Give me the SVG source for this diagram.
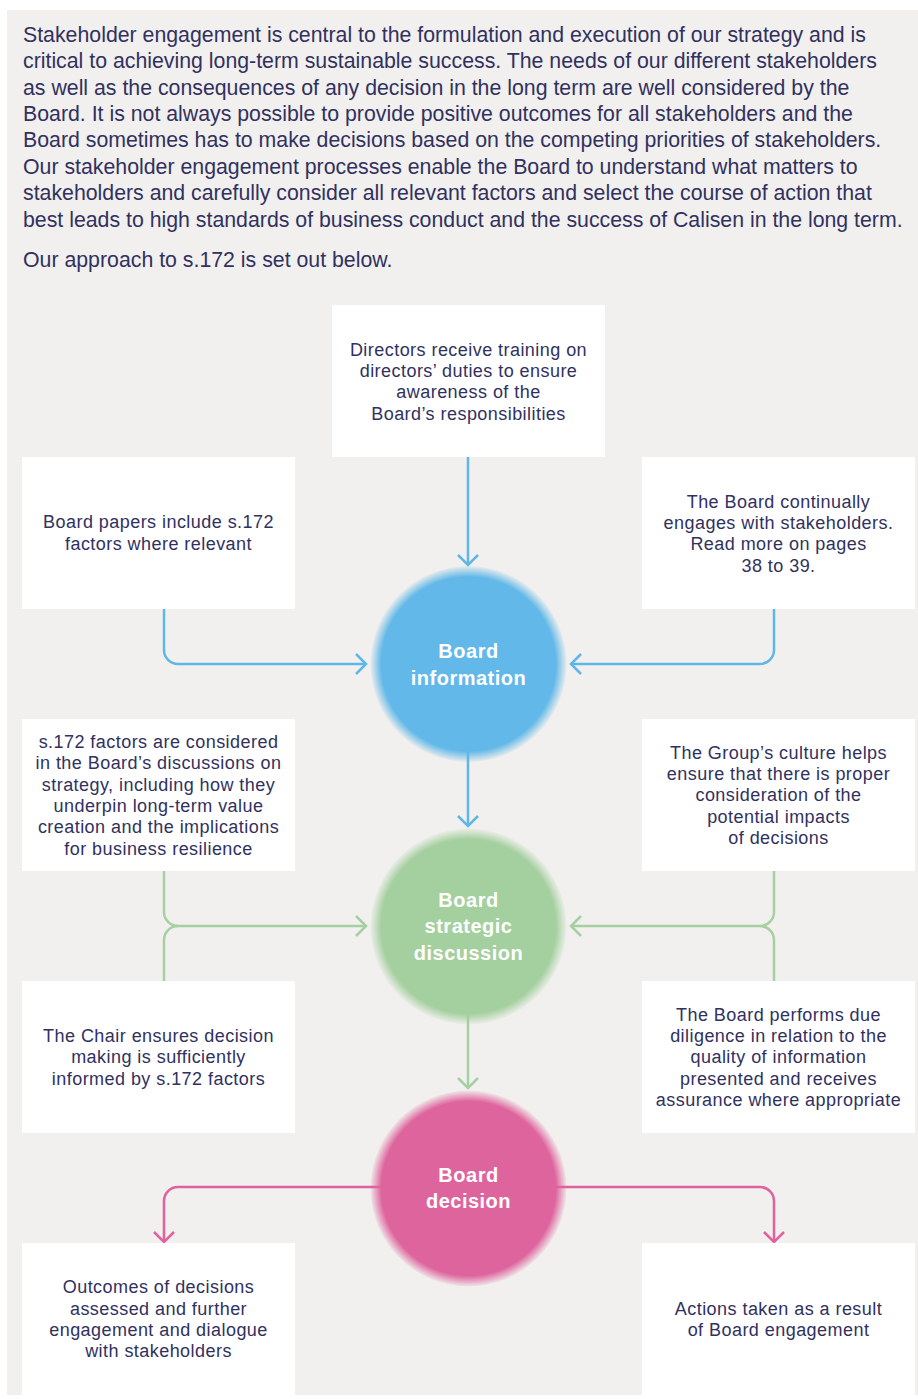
<svg xmlns="http://www.w3.org/2000/svg" width="918" height="1399" viewBox="0 0 918 1399">
  <style>
    .para { font-family: "Liberation Sans", Arial, sans-serif; font-size: 21.3px; fill: #31315f; }
    .box { fill: #ffffff; }
    .label { font-family: "Liberation Sans", Arial, sans-serif; font-size: 18px; letter-spacing: 0.45px; fill: #31315f; text-anchor: middle; }
    .hub { font-family: "Liberation Sans", Arial, sans-serif; font-size: 20px; font-weight: bold; letter-spacing: 0.5px; fill: #ffffff; text-anchor: middle; }
    .line { fill: none; stroke-width: 2.5; stroke-linecap: butt; stroke-linejoin: miter; }
    .blue { stroke: #5fb7e7; }
    .green { stroke: #a6d0a1; }
    .pink { stroke: #e0619d; }
  </style>
  <defs>
    <marker id="arrow-blue" viewBox="-12 -12 14 24" refX="0" refY="0" markerWidth="14" markerHeight="24" markerUnits="userSpaceOnUse" orient="auto">
      <path d="M-10,-10 L0,0 L-10,10" fill="none" stroke="#5fb7e7" stroke-width="2.5"/>
    </marker>
    <marker id="arrow-green" viewBox="-12 -12 14 24" refX="0" refY="0" markerWidth="14" markerHeight="24" markerUnits="userSpaceOnUse" orient="auto">
      <path d="M-10,-10 L0,0 L-10,10" fill="none" stroke="#a6d0a1" stroke-width="2.5"/>
    </marker>
    <marker id="arrow-pink" viewBox="-12 -12 14 24" refX="0" refY="0" markerWidth="14" markerHeight="24" markerUnits="userSpaceOnUse" orient="auto">
      <path d="M-10,-10 L0,0 L-10,10" fill="none" stroke="#e0619d" stroke-width="2.5"/>
    </marker>
    <radialGradient id="glow-blue" cx="0.5" cy="0.5" r="0.5">
      <stop offset="0" stop-color="#62b8e8"/>
      <stop offset="0.89" stop-color="#62b8e8"/>
      <stop offset="1" stop-color="#62b8e8" stop-opacity="0.08"/>
    </radialGradient>
    <radialGradient id="glow-green" cx="0.5" cy="0.5" r="0.5">
      <stop offset="0" stop-color="#a4cf9e"/>
      <stop offset="0.89" stop-color="#a4cf9e"/>
      <stop offset="1" stop-color="#a4cf9e" stop-opacity="0.08"/>
    </radialGradient>
    <radialGradient id="glow-pink" cx="0.5" cy="0.5" r="0.5">
      <stop offset="0" stop-color="#de649d"/>
      <stop offset="0.89" stop-color="#de649d"/>
      <stop offset="1" stop-color="#de649d" stop-opacity="0.08"/>
    </radialGradient>
  </defs>

  <!-- page background and panel -->
  <rect x="0" y="0" width="918" height="1399" fill="#ffffff"/>
  <rect x="7" y="10" width="911" height="1385" fill="#f1f0ee"/>

  <!-- introduction -->
  <g id="intro">
    <text class="para" x="23" y="41.7">Stakeholder engagement is central to the formulation and execution of our strategy and is</text>
    <text class="para" x="23" y="68.1">critical to achieving long-term sustainable success. The needs of our different stakeholders</text>
    <text class="para" x="23" y="94.5">as well as the consequences of any decision in the long term are well considered by the</text>
    <text class="para" x="23" y="120.9">Board. It is not always possible to provide positive outcomes for all stakeholders and the</text>
    <text class="para" x="23" y="147.3">Board sometimes has to make decisions based on the competing priorities of stakeholders.</text>
    <text class="para" x="23" y="173.7">Our stakeholder engagement processes enable the Board to understand what matters to</text>
    <text class="para" x="23" y="200.1">stakeholders and carefully consider all relevant factors and select the course of action that</text>
    <text class="para" x="23" y="226.5">best leads to high standards of business conduct and the success of Calisen in the long term.</text>
    <text class="para" x="23" y="266.7">Our approach to s.172 is set out below.</text>
  </g>

  <!-- connectors -->
  <g id="connectors">
    <path class="line blue" d="M468,457 V565" marker-end="url(#arrow-blue)"/>
    <path class="line blue" d="M164,609 V650 A14,14 0 0 0 178,664 H366" marker-end="url(#arrow-blue)"/>
    <path class="line blue" d="M774,609 V650 A14,14 0 0 1 760,664 H571" marker-end="url(#arrow-blue)"/>
    <path class="line blue" d="M468,745 V826" marker-end="url(#arrow-blue)"/>

    <path class="line green" d="M164,871 V912 A14,14 0 0 0 178,926 H366" marker-end="url(#arrow-green)"/>
    <path class="line green" d="M164,981 V940 A14,14 0 0 1 178,926"/>
    <path class="line green" d="M774,871 V912 A14,14 0 0 1 760,926 H571" marker-end="url(#arrow-green)"/>
    <path class="line green" d="M774,981 V940 A14,14 0 0 0 760,926"/>
    <path class="line green" d="M468,1008 V1088" marker-end="url(#arrow-green)"/>

    <path class="line pink" d="M400,1187 H178 A14,14 0 0 0 164,1201 V1242" marker-end="url(#arrow-pink)"/>
    <path class="line pink" d="M537,1187 H760 A14,14 0 0 1 774,1201 V1242" marker-end="url(#arrow-pink)"/>
  </g>

  <!-- input boxes -->
  <g id="training">
    <rect class="box" x="332" y="305" width="273" height="152"/>
    <text class="label" x="468.5" y="355.7">Directors receive training on</text>
    <text class="label" x="468.5" y="377">directors’ duties to ensure</text>
    <text class="label" x="468.5" y="398.3">awareness of the</text>
    <text class="label" x="468.5" y="419.6">Board’s responsibilities</text>
  </g>

  <g id="board-papers">
    <rect class="box" x="22" y="457" width="273" height="152"/>
    <text class="label" x="158.5" y="528.3">Board papers include s.172</text>
    <text class="label" x="158.5" y="549.6">factors where relevant</text>
  </g>

  <g id="engages">
    <rect class="box" x="642" y="457" width="273" height="152"/>
    <text class="label" x="778.5" y="507.7">The Board continually</text>
    <text class="label" x="778.5" y="529">engages with stakeholders.</text>
    <text class="label" x="778.5" y="550.3">Read more on pages</text>
    <text class="label" x="778.5" y="571.6">38 to 39.</text>
  </g>

  <g id="strategy-factors">
    <rect class="box" x="22" y="719" width="273" height="152"/>
    <text class="label" x="158.5" y="748">s.172 factors are considered</text>
    <text class="label" x="158.5" y="769.3">in the Board’s discussions on</text>
    <text class="label" x="158.5" y="790.6">strategy, including how they</text>
    <text class="label" x="158.5" y="811.9">underpin long-term value</text>
    <text class="label" x="158.5" y="833.2">creation and the implications</text>
    <text class="label" x="158.5" y="854.5">for business resilience</text>
  </g>

  <g id="culture">
    <rect class="box" x="642" y="719" width="273" height="152"/>
    <text class="label" x="778.5" y="758.8">The Group’s culture helps</text>
    <text class="label" x="778.5" y="780.1">ensure that there is proper</text>
    <text class="label" x="778.5" y="801.4">consideration of the</text>
    <text class="label" x="778.5" y="822.7">potential impacts</text>
    <text class="label" x="778.5" y="844">of decisions</text>
  </g>

  <g id="chair">
    <rect class="box" x="22" y="981" width="273" height="152"/>
    <text class="label" x="158.5" y="1042.1">The Chair ensures decision</text>
    <text class="label" x="158.5" y="1063.4">making is sufficiently</text>
    <text class="label" x="158.5" y="1084.7">informed by s.172 factors</text>
  </g>

  <g id="due-diligence">
    <rect class="box" x="642" y="981" width="273" height="152"/>
    <text class="label" x="778.5" y="1020.8">The Board performs due</text>
    <text class="label" x="778.5" y="1042.1">diligence in relation to the</text>
    <text class="label" x="778.5" y="1063.4">quality of information</text>
    <text class="label" x="778.5" y="1084.7">presented and receives</text>
    <text class="label" x="778.5" y="1106">assurance where appropriate</text>
  </g>

  <!-- output boxes -->
  <g id="outcomes">
    <rect class="box" x="22" y="1243" width="273" height="152"/>
    <text class="label" x="158.5" y="1293.4">Outcomes of decisions</text>
    <text class="label" x="158.5" y="1314.7">assessed and further</text>
    <text class="label" x="158.5" y="1336">engagement and dialogue</text>
    <text class="label" x="158.5" y="1357.3">with stakeholders</text>
  </g>

  <g id="actions">
    <rect class="box" x="642" y="1243" width="273" height="152"/>
    <text class="label" x="778.5" y="1314.8">Actions taken as a result</text>
    <text class="label" x="778.5" y="1336.1">of Board engagement</text>
  </g>

  <!-- hubs -->
  <g id="board-information">
    <circle cx="468.5" cy="664" r="98" fill="url(#glow-blue)"/>
    <text class="hub" x="468.5" y="658.3">Board</text>
    <text class="hub" x="468.5" y="685">information</text>
  </g>

  <g id="board-strategic-discussion">
    <circle cx="468.5" cy="926.5" r="98" fill="url(#glow-green)"/>
    <text class="hub" x="468.5" y="906.7">Board</text>
    <text class="hub" x="468.5" y="933.3">strategic</text>
    <text class="hub" x="468.5" y="959.5">discussion</text>
  </g>

  <g id="board-decision">
    <circle cx="468.5" cy="1188.5" r="98" fill="url(#glow-pink)"/>
    <text class="hub" x="468.5" y="1181.7">Board</text>
    <text class="hub" x="468.5" y="1208.3">decision</text>
  </g>
</svg>
